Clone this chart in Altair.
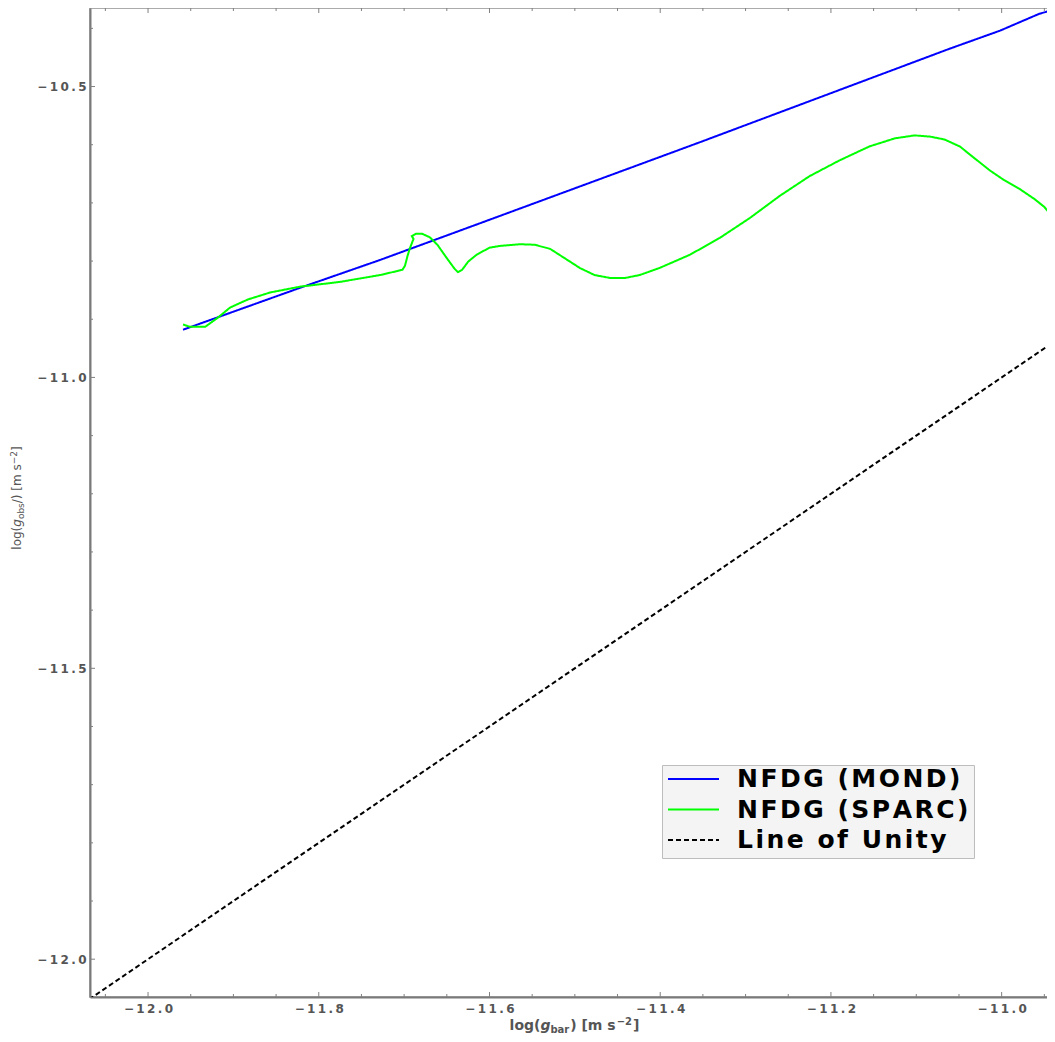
import altair as alt
import pandas as pd

series_names = ["NFDG (MOND)", "NFDG (SPARC)", "Line of Unity"]
series_colors = ["#0000ff", "#00ff00", "#000000"]
series_dash = [[1, 0], [1, 0], [5, 3]]
series_width = [2, 2, 1.5]

mond_x = [-11.959, -11.822, -11.728, -11.600, -11.354, -11.061, -11.002, -10.956, -10.944, -10.932]
mond_y = [-10.918, -10.846, -10.798, -10.729, -10.596, -10.435, -10.404, -10.375, -10.370, -10.368]

sparc_x = [-11.959, -11.951, -11.933, -11.918, -11.904, -11.883, -11.857, -11.822, -11.776, -11.728,
           -11.702, -11.699, -11.696, -11.693, -11.689, -11.691, -11.686, -11.679, -11.670, -11.661,
           -11.650, -11.641, -11.637, -11.632, -11.625, -11.615, -11.600, -11.588, -11.564, -11.547,
           -11.529, -11.512, -11.494, -11.477, -11.459, -11.441, -11.424, -11.401, -11.365, -11.330,
           -11.295, -11.260, -11.225, -11.190, -11.155, -11.125, -11.102, -11.084, -11.067, -11.049,
           -11.032, -11.014, -10.997, -10.979, -10.961, -10.950, -10.942, -10.936]
sparc_y = [-10.909, -10.913, -10.913, -10.897, -10.880, -10.866, -10.854, -10.844, -10.836, -10.824,
           -10.815, -10.808, -10.791, -10.777, -10.762, -10.757, -10.753, -10.753, -10.759, -10.772,
           -10.795, -10.813, -10.819, -10.815, -10.801, -10.789, -10.777, -10.774, -10.771, -10.772,
           -10.779, -10.795, -10.812, -10.824, -10.829, -10.829, -10.824, -10.812, -10.789, -10.760,
           -10.726, -10.688, -10.654, -10.627, -10.603, -10.589, -10.584, -10.586, -10.591, -10.603,
           -10.623, -10.644, -10.661, -10.676, -10.694, -10.707, -10.721, -10.736]

unity_x = [-12.1, -10.9]
unity_y = [-12.1, -10.9]

x_major = [-12.0, -11.8, -11.6, -11.4, -11.2, -11.0]
x_minor = [-12.05, -11.95, -11.9, -11.85, -11.75, -11.7, -11.65, -11.55, -11.5, -11.45,
           -11.35, -11.3, -11.25, -11.15, -11.1, -11.05, -10.95]
y_major = [-12.0, -11.5, -11.0, -10.5]
y_minor = [-11.9, -11.8, -11.7, -11.6, -11.4, -11.3, -11.2, -11.1, -10.9, -10.8, -10.7, -10.6, -10.4]

rows = []
for name, xs_, ys_ in [(series_names[0], mond_x, mond_y),
                       (series_names[1], sparc_x, sparc_y),
                       (series_names[2], unity_x, unity_y)]:
    for i, (a, b) in enumerate(zip(xs_, ys_)):
        rows.append({"series": name, "x": a, "y": b, "i": i})
df = pd.DataFrame(rows)

W, H = 965, 989
xs = alt.Scale(domain=[-12.068, -10.9375], nice=False, zero=False)
ys = alt.Scale(domain=[-12.065, -10.365], nice=False, zero=False)

# widen the labels a little (thin space between glyphs)
spaced = "replace(datum.label, regexp('(.)(?=.)', 'g'), '$1\u2009')"
legend_spaced = "replace(datum.label, regexp('(.)(?=.)', 'g'), '$1\u200a')"

xaxis = alt.Axis(values=x_major, format=".1f", title="", labelExpr=spaced, labelPadding=6,
                 ticks=False, grid=False, domainColor="#7a7a7a", domainWidth=2,
                 labelFont="DejaVu Sans", labelFontSize=12, labelFontWeight="bold", labelColor="#555555")
yaxis = alt.Axis(values=y_major, format=".1f", title="", labelExpr=spaced, labelPadding=4,
                 ticks=False, grid=False, domainColor="#7a7a7a", domainWidth=2,
                 labelFont="DejaVu Sans", labelFontSize=12, labelFontWeight="bold", labelColor="#555555")

lines = alt.Chart(df).mark_line(clip=True).encode(
    x=alt.X("x:Q", scale=xs, axis=xaxis),
    y=alt.Y("y:Q", scale=ys, axis=yaxis),
    color=alt.Color("series:N", scale=alt.Scale(domain=series_names, range=series_colors),
                    legend=alt.Legend(title=None, orient="none", legendX=572, legendY=757,
                                      symbolType="stroke", symbolSize=2601, symbolStrokeWidth=1.5,
                                      clipHeight=18, rowPadding=5.5, padding=5, labelOffset=17,
                                      labelFont="DejaVu Sans", labelFontSize=25, labelFontWeight="bold",
                                      labelColor="#000000", labelLimit=400, labelExpr=legend_spaced,
                                      fillColor="#f4f4f4", strokeColor="#bdbdbd")),
    strokeDash=alt.StrokeDash("series:N", scale=alt.Scale(domain=series_names, range=series_dash)),
    strokeWidth=alt.StrokeWidth("series:N", scale=alt.Scale(domain=series_names, range=series_width),
                                legend=None),
    order=alt.Order("i:Q"),
)

tick_col = "#808080"


def xticks(vals, length, top=False):
    d = pd.DataFrame({"x": vals})
    y0 = 0 if top else H
    y1 = length if top else H - length
    return alt.Chart(d).mark_rule(color=tick_col, strokeWidth=1).encode(
        x=alt.X("x:Q", scale=xs, axis=xaxis), y=alt.value(y0), y2=alt.value(y1))


def yticks(vals, length):
    d = pd.DataFrame({"y": vals})
    return alt.Chart(d).mark_rule(color=tick_col, strokeWidth=1).encode(
        y=alt.Y("y:Q", scale=ys, axis=yaxis), x=alt.value(0), x2=alt.value(length))


one = pd.DataFrame({"k": [0]})


def txt(s, x, y, size, weight="bold", style="normal", angle=0, dx=0, dy=0):
    return alt.Chart(one).mark_text(
        text=s, align="left", baseline="alphabetic", font="DejaVu Sans", fontSize=size,
        fontWeight=weight, fontStyle=style, color="#555555", angle=angle, dx=dx, dy=dy
    ).encode(x=alt.value(x), y=alt.value(y))


xt_y = 1022
x_title = [
    txt("log(", 419.6, xt_y, 14),
    txt("g", 450.4, xt_y, 14, style="italic"),
    txt("bar", 460.4, xt_y + 3, 10),
    txt(") [m s", 480.2, xt_y, 14),
    txt("\u22122", 526.7, xt_y - 5, 10),
    txt("]", 543.0, xt_y, 14),
]

yx, yy = -69, 541.7
y_title = [
    txt("log(", yx, yy, 12, weight="normal", angle=270, dx=0),
    txt("g", yx, yy, 12, weight="normal", style="italic", angle=270, dx=23.0),
    txt("obs", yx, yy, 9, weight="normal", angle=270, dx=30.6, dy=3),
    txt("/) [m s", yx, yy, 12, weight="normal", angle=270, dx=46.5),
    txt("\u22122", yx, yy, 9, weight="normal", angle=270, dx=85.5, dy=-4),
    txt("]", yx, yy, 12, weight="normal", angle=270, dx=98.8),
]

chart = alt.layer(
    lines,
    xticks(x_major, 5), xticks(x_minor, 3),
    xticks(x_major, 5, top=True), xticks(x_minor, 3, top=True),
    yticks(y_major, 5), yticks(y_minor, 3),
    *x_title, *y_title,
).properties(
    width=W, height=H,
    padding={"left": 82, "top": 0, "right": -8, "bottom": 37},
    autosize=alt.AutoSizeParams(type="none"),
).configure_view(
    stroke="#909090", strokeWidth=1.5
)

chart.save("out.html", embed_options={"renderer": "svg", "actions": False})
